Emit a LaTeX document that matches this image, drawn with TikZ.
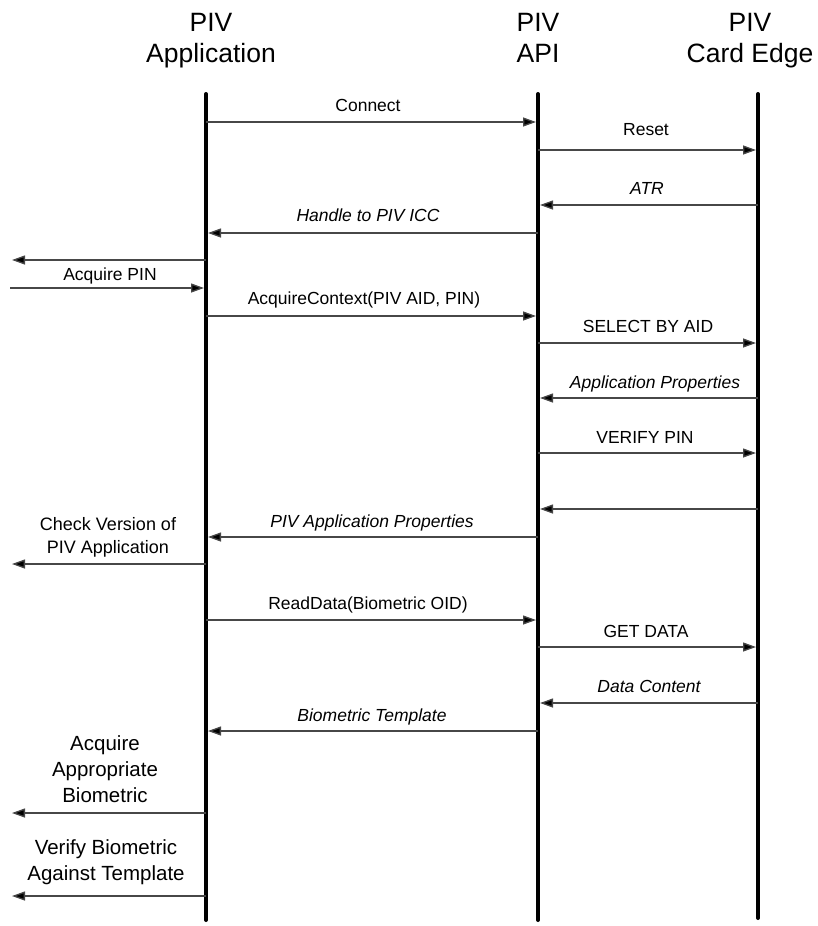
\documentclass[tikz,border=0pt]{standalone}
\usepackage{fontspec}
\setmainfont{Liberation Sans}
\usetikzlibrary{arrows.meta}
\begin{document}
\begin{tikzpicture}[x=1pt,y=-1pt,
  life/.style={line width=4pt,line cap=round},
  msg/.style={draw=black!72,line width=1.3pt,-{Triangle[length=13pt,width=9pt,fill=black]},shorten >=2pt},
  head/.style={align=center,inner sep=0pt,anchor=north,font=\fontsize{26.5}{31}\selectfont},
  lbl/.style={inner sep=0pt,font=\fontsize{17.5}{21}\selectfont},
  ilbl/.style={lbl,font=\fontsize{17.5}{21}\selectfont\itshape},
  side/.style={align=center,inner sep=0pt,font=\fontsize{18}{23}\selectfont},
  bigside/.style={align=center,inner sep=0pt,font=\fontsize{20.5}{26}\selectfont}]
\useasboundingbox (0,0) rectangle (817,926);

% headers
\node[head] (hApp) at (211,13) {PIV\\Application};
\node[head] (hApi) at (538,13) {PIV\\API};
\node[head] (hCard) at (750,13) {PIV\\Card Edge};

% lifelines
\coordinate (appT) at (206,94);  \coordinate (appB) at (206,920);
\coordinate (apiT) at (538,94);  \coordinate (apiB) at (538,920);
\coordinate (cardT) at (758,94); \coordinate (cardB) at (758,918);
\draw[life] (appT) -- (appB);
\draw[life] (apiT) -- (apiB);
\draw[life] (cardT) -- (cardB);

% message end points
\foreach \n/\y in {1/122,2/150,3/205,4/233,5/260,6/288,7/316,8/343,9/398,10/453,11/509,12/537,13/564,14/620,15/647,16/703,17/731,18/813,19/896}{
  \coordinate (ext\n) at (10,\y);
  \coordinate (app\n) at (206,\y);
  \coordinate (api\n) at (538,\y);
  \coordinate (card\n) at (758,\y);
}

% messages
\draw[msg] (app1) -- (api1);
\node[lbl,anchor=base] (l1) at (368,111) {Connect};
\draw[msg] (api2) -- (card2);
\node[lbl,anchor=base] (l2) at (646,135) {Reset};
\draw[msg] (card3) -- (api3);
\node[ilbl,anchor=base] (l3) at (647,194) {ATR};
\draw[msg] (api4) -- (app4);
\node[ilbl,anchor=base] (l4) at (368,221) {Handle to PIV ICC};
\draw[msg] (app5) -- (ext5);
\node[lbl,anchor=base] (l5) at (110,280) {Acquire PIN};
\draw[msg] (ext6) -- (app6);
\draw[msg] (app7) -- (api7);
\node[lbl,anchor=base] (l7) at (364,304) {AcquireContext(PIV AID, PIN)};
\draw[msg] (api8) -- (card8);
\node[lbl,anchor=base] (l8) at (648,332) {SELECT BY AID};
\draw[msg] (card9) -- (api9);
\node[ilbl,anchor=base] (l9) at (655,388) {Application Properties};
\draw[msg] (api10) -- (card10);
\node[lbl,anchor=base] (l10) at (645,443) {VERIFY PIN};
\draw[msg] (card11) -- (api11);
\draw[msg] (api12) -- (app12);
\node[ilbl,anchor=base] (l12) at (372,527) {PIV Application Properties};
\draw[msg] (app13) -- (ext13);
\node[side,anchor=south] (l13) at (108,557) {Check Version of\\PIV Application};
\draw[msg] (app14) -- (api14);
\node[lbl,anchor=base] (l14) at (368,609) {ReadData(Biometric OID)};
\draw[msg] (api15) -- (card15);
\node[lbl,anchor=base] (l15) at (646,637) {GET DATA};
\draw[msg] (card16) -- (api16);
\node[ilbl,anchor=base] (l16) at (649,692) {Data Content};
\draw[msg] (api17) -- (app17);
\node[ilbl,anchor=base] (l17) at (372,721) {Biometric Template};
\draw[msg] (app18) -- (ext18);
\node[bigside,anchor=south] (l18) at (105,803) {Acquire\\Appropriate\\Biometric};
\draw[msg] (app19) -- (ext19);
\node[bigside,anchor=south] (l19) at (106,885) {Verify Biometric\\Against Template};
\end{tikzpicture}
\end{document}
